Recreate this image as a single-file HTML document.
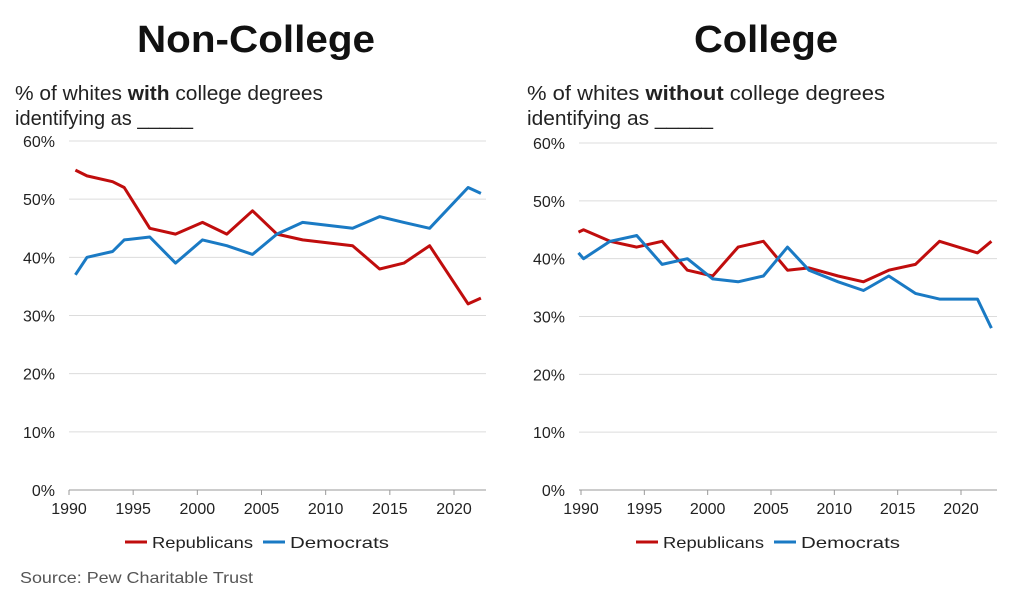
<!DOCTYPE html>
<html><head><meta charset="utf-8"><style>
body{margin:0;background:#fff;width:1024px;height:604px;overflow:hidden;font-family:"Liberation Sans",sans-serif}
</style></head><body>
<svg id="svg" width="1024" height="604" xmlns="http://www.w3.org/2000/svg">
<text x="137" y="52" textLength="238" lengthAdjust="spacingAndGlyphs" font-size="38" font-weight="bold" fill="#111">Non-College</text>
<text x="694" y="52" textLength="144" lengthAdjust="spacingAndGlyphs" font-size="38" font-weight="bold" fill="#111">College</text>
<text x="15" y="100" textLength="308" lengthAdjust="spacingAndGlyphs" font-size="20" fill="#222">% of whites <tspan font-weight="bold">with</tspan> college degrees</text>
<text x="15" y="125" textLength="178" lengthAdjust="spacingAndGlyphs" font-size="20" fill="#222">identifying as _____</text>
<text x="527" y="100" textLength="358" lengthAdjust="spacingAndGlyphs" font-size="20" fill="#222">% of whites <tspan font-weight="bold">without</tspan> college degrees</text>
<text x="527" y="125" textLength="186" lengthAdjust="spacingAndGlyphs" font-size="20" fill="#222">identifying as _____</text>
<text x="20" y="583" textLength="233" lengthAdjust="spacingAndGlyphs" font-size="16" fill="#555">Source: Pew Charitable Trust</text>
</svg>
<script>
const yTicks=[0,10,20,30,40,50,60];
const xTicks=[1990,1995,2000,2005,2010,2015,2020];
const leftYears=[1990.5,1991.4,1993.4,1994.3,1996.3,1998.3,2000.4,2002.3,2004.3,2006.2,2008.2,2012.1,2014.2,2016.1,2018.1,2021.1,2022.1];
const leftRep=[55,54,53,52,45,44,46,44,48,44,43,42,38,39,42,32,33];
const leftDem=[37,40,41,43,43.5,39,43,42,40.5,44,46,45,47,46,45,52,51];
const rightYears=[1989.8,1990.2,1992.3,1994.4,1996.4,1998.4,2000.4,2002.4,2004.4,2006.3,2008,2010.3,2012.3,2014.3,2016.4,2018.3,2021.3,2022.4];
const rightRep=[44.6,45,43,42,43,38,37,42,43,38,38.4,37,36,38,39,43,41,43];
const rightDem=[41,40,43,44,39,40,36.5,36,37,42,38,36,34.5,37,34,33,33,28];
const svg=document.getElementById('svg');
const NS='http://www.w3.org/2000/svg';
function mk(t,a){const e=document.createElementNS(NS,t);for(const k in a)e.setAttribute(k,a[k]);svg.appendChild(e);return e;}
function chart(p,cfg){
  const x=v=>cfg.x0+(v-1990)*(cfg.x1-cfg.x0)/30;
  const y=v=>cfg.y0-(v)*(cfg.y0-cfg.y60)/60;
  yTicks.forEach(t=>{
    if(t>0){const g=mk('line',{x1:cfg.gl,x2:cfg.gr,y1:y(t),y2:y(t),stroke:'#dcdcdc','stroke-width':1});
    
    }
    const l=mk('text',{x:cfg.gl-14,y:y(t)+6,'text-anchor':'end','font-size':16,fill:'#222'});l.textContent=t+'%';
    
    
  });
  const ax=mk('line',{x1:cfg.gl,x2:cfg.gr,y1:cfg.y0,y2:cfg.y0,stroke:'#999','stroke-width':1});
  
  
  xTicks.forEach(t=>{
    mk('line',{x1:x(t),x2:x(t),y1:cfg.y0,y2:cfg.y0+5,stroke:'#999'});
    const l=mk('text',{x:x(t),y:cfg.y0+24,'text-anchor':'middle','font-size':16,fill:'#222'});l.textContent=t;
    
    
  });
  [[cfg.rep,'#c00d0d','republicans'],[cfg.dem,'#1a7ac4','democrats']].forEach(([vals,c,n])=>{
    const d=vals.map((v,i)=>(i?'L':'M')+x(cfg.years[i]).toFixed(1)+','+y(v).toFixed(1)).join('');
    const pa=mk('path',{d:d,fill:'none',stroke:c,'stroke-width':3,'stroke-linejoin':'round'});
    
    
  });
  const lx=cfg.lx;
  mk('line',{x1:lx,x2:lx+22,y1:542,y2:542,stroke:'#c00d0d','stroke-width':3});
  const t1=mk('text',{x:lx+27,y:548,'font-size':16,fill:'#222',textLength:101,lengthAdjust:'spacingAndGlyphs'});t1.textContent='Republicans';
  
  
  mk('line',{x1:lx+138,x2:lx+160,y1:542,y2:542,stroke:'#1a7ac4','stroke-width':3});
  const t2=mk('text',{x:lx+165,y:548,'font-size':16,fill:'#222',textLength:99,lengthAdjust:'spacingAndGlyphs'});t2.textContent='Democrats';
  
  
}
chart('left',{x0:69,x1:454,y0:490,y60:141,gl:69,gr:486,years:leftYears,rep:leftRep,dem:leftDem,lx:125});
chart('right',{x0:581,x1:961,y0:490,y60:143,gl:579,gr:997,years:rightYears,rep:rightRep,dem:rightDem,lx:636});
</script>
</body></html>
